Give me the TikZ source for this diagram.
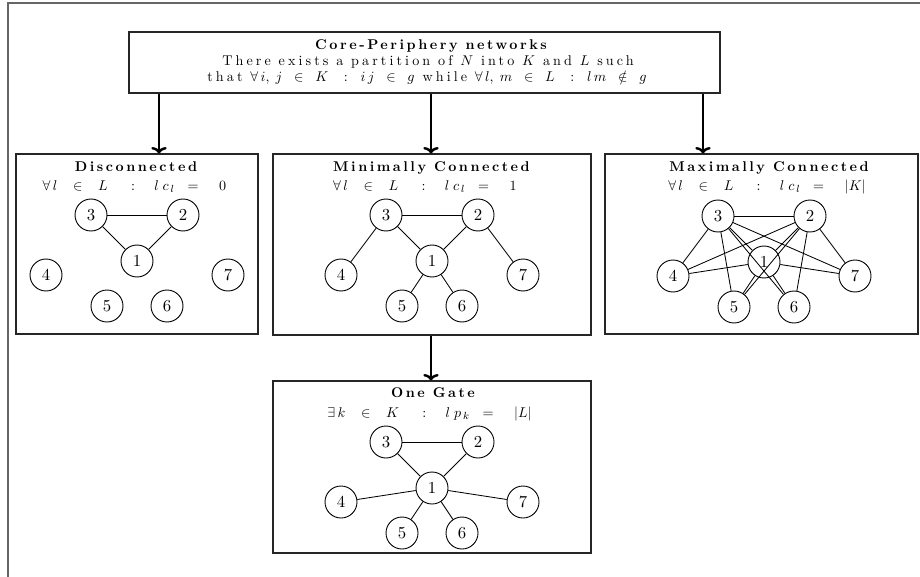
\documentclass[tikz,border=0pt]{standalone}
\usepackage{fontspec}
\setmainfont{lmroman10-regular}[Extension=.otf,
  BoldFont=lmroman10-bold, ItalicFont=lmroman10-italic,
  BoldItalicFont=lmroman10-bolditalic]
\usetikzlibrary{arrows.meta,fit,calc}

% tracking for the wide-set captions
\newcommand\lsp[1]{\addfontfeatures{LetterSpace=#1}}
% "condition" line of a panel: left : middle = right
\newcommand\cond[3]{$#1$\hspace{18pt}$:$\hspace{15pt}$#2$\hspace{10pt}$=$\hspace{16pt}$#3$}

% seven vertices of a core-periphery graph, vertex 1 at (#2,#3)
\newcommand\sevennodes[3]{%
  \node[vtx] (#11) at (#2,#3) {1};
  \node[vtx] (#12) at ({#2+46},{#3-46}) {2};
  \node[vtx] (#13) at ({#2-46},{#3-46}) {3};
  \node[vtx] (#14) at ({#2-91},{#3+14}) {4};
  \node[vtx] (#15) at ({#2-30},{#3+45}) {5};
  \node[vtx] (#16) at ({#2+30},{#3+45}) {6};
  \node[vtx] (#17) at ({#2+91},{#3+14}) {7};
}

\begin{document}
\begin{tikzpicture}[x=0.775pt,y=-0.775pt,
  frame/.style={line width=1.5pt, draw=black!60},
  panel/.style={draw=black!85, line width=0.9pt, inner sep=0pt},
  vtx/.style={circle, draw, line width=0.7pt, minimum size=24.8pt, inner sep=0pt,
    font=\fontsize{13}{15}\selectfont},
  edge/.style={line width=0.65pt},
  arr/.style={line width=1.9pt, -{To[length=5pt,width=12pt]}},
  ttl/.style={anchor=base, inner sep=0pt, font=\fontsize{10.95}{13.6}\selectfont\bfseries\lsp{18}},
  txt/.style={anchor=base, inner sep=0pt, font=\fontsize{10.95}{13.6}\selectfont\lsp{22}},
]
\useasboundingbox (0,0) rectangle (920,577);

% outer frame (top and left sides)
\draw[frame] (8,577) -- (8,3) -- (920,3);

% heading box
\node[panel, fit={(129,32) (720,93)}] (top) {};
\node[ttl] (h1) at (431,50) {Core-Periphery networks};
\node[txt] (h2) at (428,66) {There exists a partition of $N$ into $K$ and $L$ such};
\node[txt] (h3) at (427,81) {that $\forall\,i,\;j\;\;\in\;\;K$\hspace{12pt}$:$\hspace{10pt}$i\,j\;\;\in\;\;g$ while $\forall\,l,\;m\;\;\in\;\;L$\hspace{12pt}$:$\hspace{10pt}$l\,m\;\;\notin\;\;g$};

% the four panels
\node[panel, fit={(16,154) (258,334)}] (b1) {};
\node[panel, fit={(273,154) (591,335)}] (b2) {};
\node[panel, fit={(605,154) (918,334)}] (b3) {};
\node[panel, fit={(273,381) (591,553)}] (b4) {};

% panel captions
\node[ttl] (t1) at (136,171) {Disconnected};
\node[txt] (f1) at (134.5,190) {\cond{\forall\,l\;\;\;\in\;\;\;L}{l\;c_{\,l}}{0}};
\node[ttl] (t2) at (431.5,171) {Minimally Connected};
\node[txt] (f2) at (425,190) {\cond{\forall\,l\;\;\;\in\;\;\;L}{l\;c_{\,l}}{1}};
\node[ttl] (t3) at (769,171) {Maximally Connected};
\node[txt] (f3) at (767,190) {\cond{\forall\,l\;\;\;\in\;\;\;L}{l\;c_{\,l}}{|K|}};
\node[ttl] (t4) at (433,397) {One Gate};
\node[txt] (f4) at (429.5,417) {\cond{\exists\,k\;\;\;\in\;\;\;K}{l\;p_{\,k}}{|L|}};

% arrows between boxes
\coordinate (c1) at (159,0);
\coordinate (c2) at (431,0);
\coordinate (c3) at (703,0);
\draw[arr] (top.south -| c1) -- (b1.north -| c1);
\draw[arr] (top.south -| c2) -- (b2.north -| c2);
\draw[arr] (top.south -| c3) -- (b3.north -| c3);
\draw[arr] (b2.south -| c2) -- (b4.north -| c2);

% graphs
\sevennodes{d}{137}{261}
\sevennodes{m}{432}{261}
\sevennodes{x}{764}{262}
\sevennodes{g}{432}{488}

\foreach \a/\b in {3/2,3/1,2/1}
  \draw[edge] (d\a) -- (d\b);
\foreach \a/\b in {3/2,3/1,2/1,3/4,2/7,1/5,1/6}
  \draw[edge] (m\a) -- (m\b);
\foreach \a/\b in {3/2,3/1,2/1}
  \draw[edge] (x\a) -- (x\b);
\foreach \a in {1,2,3}
  \foreach \b in {4,5,6,7}
    \draw[edge] (x\a) -- (x\b);
\foreach \a/\b in {3/2,3/1,2/1,1/4,1/5,1/6,1/7}
  \draw[edge] (g\a) -- (g\b);
\end{tikzpicture}
\end{document}
